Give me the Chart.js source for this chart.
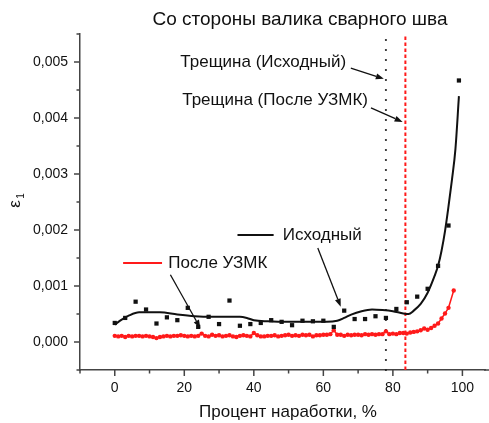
<!DOCTYPE html>
<html><head><meta charset="utf-8">
<script src="https://cdn.jsdelivr.net/npm/chart.js@4"></script>
<style>html,body{margin:0;padding:0;overflow:hidden;background:#fff;width:489px;height:423px}canvas{display:block}</style>
</head><body>
<canvas id="c" width="489" height="423"></canvas>
<script>
const FONT = '"Liberation Sans", Arial, sans-serif';
const titleText = 'Со стороны валика сварного шва';
const xAxisTitle = 'Процент наработки, %';
const yAxisTitle = 'ε';
const yAxisSub = '1';
const seriesNames = ['Исходный', 'После УЗМК'];
const crackLabels = ['Трещина (Исходный)', 'Трещина (После УЗМК)'];
const crackX = [78, 83.6];
const xTickLabels = [0, 20, 40, 60, 80, 100];
const xTickMarks = [-10, 0, 10, 20, 30, 40, 50, 60, 70, 80, 90, 100];
const yTickLabels = [0, 0.001, 0.002, 0.003, 0.004, 0.005];

// Исходный: measured points
const baseX = [0,3,6,9,12,15,18,21,24,27,30,33,36,39,42,45,48,51,54,57,60,63,66,69,72,75,78,81,84,87,90,93,96,99];
const baseY = [0.00034,0.00043,0.00072,0.00058,0.00033,0.00044,0.00039,0.00061,0.00027,0.00045,0.00032,0.00074,0.00029,0.00032,0.00034,0.00039,0.00036,0.00030,0.00038,0.00037,0.00038,0.00027,0.00056,0.00041,0.00041,0.00046,0.00043,0.00059,0.00071,0.00081,0.00095,0.00136,0.00208,0.00467];
// Исходный: smoothed curve
const baseFitX = [0,2,4,7,10,13,18,23,28,33,36,38,40,44,50,56,61,64,66,68,71,74,77,80,83,84.5,86,88,90,92,93,94,95,96,97,98,99];
const baseFitY = [0.00031,0.00040,0.00047,0.00053,0.00053,0.00053,0.00049,0.00046,0.00045,0.00045,0.00045,0.00043,0.00039,0.00037,0.00036,0.00036,0.00036,0.00038,0.00043,0.00049,0.00055,0.00058,0.00057,0.00055,0.00051,0.00050,0.00056,0.00068,0.00088,0.00118,0.00136,0.00163,0.00198,0.00242,0.00290,0.00345,0.00439];
// После УЗМК
const uzmkX = [0,1,2,3,4,5,6,7,8,9,10,11,12,13,14,15,16,17,18,19,20,21,22,23,24,25,26,27,28,29,30,31,32,33,34,35,36,37,38,39,40,41,42,43,44,45,46,47,48,49,50,51,52,53,54,55,56,57,58,59,60,61,62,63,64,65,66,67,68,69,70,71,72,73,74,75,76,77,78,79,80,81,82,83,84,85,86,87,88,89,90,91,92,93,94,95,96,97.5];
const uzmkY = [0.00011,0.00010,0.00011,0.00009,0.00011,0.00010,0.00011,0.00011,0.00010,0.00011,0.00010,0.00009,0.00007,0.00009,0.00010,0.00011,0.00010,0.00011,0.00011,0.00012,0.00011,0.00010,0.00011,0.00010,0.00011,0.00015,0.00011,0.00010,0.00013,0.00011,0.00012,0.00010,0.00011,0.00012,0.00010,0.00009,0.00011,0.00012,0.00011,0.00010,0.00016,0.00012,0.00010,0.00010,0.00011,0.00011,0.00012,0.00010,0.00011,0.00012,0.00013,0.00011,0.00012,0.00011,0.00013,0.00012,0.00013,0.00010,0.00012,0.00012,0.00013,0.00013,0.00014,0.00021,0.00013,0.00013,0.00011,0.00013,0.00012,0.00013,0.00013,0.00012,0.00014,0.00013,0.00014,0.00013,0.00014,0.00014,0.00019,0.00014,0.00015,0.00014,0.00016,0.00016,0.00015,0.00017,0.00018,0.00019,0.00021,0.00024,0.00022,0.00025,0.00029,0.00033,0.00042,0.00051,0.00061,0.00092];

const X_MIN = -10, X_MAX = 106.5, Y_MIN = -0.0005, Y_MAX = 0.0055;
const pts = (xs, ys) => xs.map((x, i) => ({x, y: ys[i]}));
const vline = x => [{x, y: Y_MIN}, {x, y: Y_MAX}];

const isMajorY = v => yTickLabels.some(t => Math.abs(t - v) < 1e-9);
const isMajorX = v => xTickLabels.includes(v);

function arrow(ctx, x1, y1, x2, y2) {
  const a = Math.atan2(y2 - y1, x2 - x1), L = 8, W = 3;
  const bx = x2 - L * Math.cos(a), by = y2 - L * Math.sin(a);
  ctx.beginPath(); ctx.moveTo(x1, y1); ctx.lineTo(bx, by); ctx.stroke();
  ctx.beginPath(); ctx.moveTo(x2, y2);
  ctx.lineTo(bx + W * Math.sin(a), by - W * Math.cos(a));
  ctx.lineTo(bx - W * Math.sin(a), by + W * Math.cos(a));
  ctx.closePath(); ctx.fill();
}

const deco = {
  id: 'deco',
  afterDraw(chart) {
    const {ctx, chartArea: ca, scales: {x, y}} = chart;
    const X = v => x.getPixelForValue(v), Y = v => y.getPixelForValue(v);
    ctx.save();
    // axis line continues to the picture edge
    ctx.strokeStyle = '#444'; ctx.lineWidth = 1.5;
    ctx.beginPath(); ctx.moveTo(ca.right - 1, ca.bottom); ctx.lineTo(chart.width, ca.bottom); ctx.stroke();
    // tick marks
    xTickMarks.forEach(v => {
      const px = X(v), len = isMajorX(v) ? 6 : 3.5;
      ctx.beginPath(); ctx.moveTo(px, ca.bottom); ctx.lineTo(px, ca.bottom + len); ctx.stroke();
    });
    y.ticks.forEach(t => {
      const py = Y(t.value), len = isMajorY(t.value) ? 6 : 3.5;
      ctx.beginPath(); ctx.moveTo(ca.left, py); ctx.lineTo(ca.left - len, py); ctx.stroke();
    });
    ctx.fillStyle = '#111';
    // title
    ctx.font = '19px ' + FONT; ctx.textAlign = 'center'; ctx.textBaseline = 'middle';
    ctx.fillText(titleText, 300, 20);
    // x title
    ctx.font = '17px ' + FONT;
    ctx.fillText(xAxisTitle, 288, 412);
    // y title
    ctx.save();
    ctx.translate(15, (ca.top + ca.bottom) / 2);
    ctx.rotate(-Math.PI / 2);
    ctx.font = '17px ' + FONT; ctx.textAlign = 'center';
    ctx.fillText(yAxisTitle, -2, 0);
    ctx.font = '10px ' + FONT;
    ctx.fillText(yAxisSub, 6, 6);
    ctx.restore();
    // crack labels
    ctx.font = '17px ' + FONT; ctx.textAlign = 'left'; ctx.textBaseline = 'middle';
    ctx.fillText(crackLabels[0], X(18.85), Y(0.0050));
    ctx.fillText(crackLabels[1], X(19.4), Y(0.00432));
    ctx.strokeStyle = '#111'; ctx.lineWidth = 1.3;
    arrow(ctx, X(67.9), Y(0.00489), X(77.4), Y(0.0047));
    arrow(ctx, X(73.7), Y(0.00418), X(82.8), Y(0.00393));
    // series labels
    ctx.lineWidth = 2;
    ctx.strokeStyle = '#111';
    ctx.beginPath(); ctx.moveTo(X(35.3), Y(0.00191)); ctx.lineTo(X(45.7), Y(0.00191)); ctx.stroke();
    ctx.fillText(seriesNames[0], X(48.3), Y(0.00191));
    ctx.strokeStyle = '#ff1a1a';
    ctx.beginPath(); ctx.moveTo(X(2.4), Y(0.00141)); ctx.lineTo(X(13.6), Y(0.00141)); ctx.stroke();
    ctx.fillText(seriesNames[1], X(15.4), Y(0.00141));
    ctx.strokeStyle = '#111'; ctx.lineWidth = 1.3;
    arrow(ctx, X(58.4), Y(0.00168), X(65), Y(0.00063));
    arrow(ctx, X(16), Y(0.0012), X(24.6), Y(0.00025));
    ctx.restore();
  }
};

new Chart(document.getElementById('c'), {
  type: 'scatter',
  data: {
    datasets: [
      {label: seriesNames[0] + ' (точки)', data: pts(baseX, baseY), showLine: false, pointStyle: 'rect', pointRadius: 3, pointBackgroundColor: '#111', pointBorderWidth: 0, order: 1},
      {label: seriesNames[0], data: pts(baseFitX, baseFitY), showLine: true, borderColor: '#111', borderWidth: 2, pointRadius: 0, cubicInterpolationMode: 'monotone', order: 2},
      {label: seriesNames[1], data: pts(uzmkX, uzmkY), showLine: true, borderColor: '#ff1a1a', borderWidth: 1.5, pointRadius: 2.2, pointBackgroundColor: '#ff1a1a', pointBorderWidth: 0, order: 3},
      {label: crackLabels[0], data: vline(crackX[0]), showLine: true, borderColor: '#222', borderWidth: 2.2, borderDash: [0, 10], borderCapStyle: 'round', pointRadius: 0, clip: false, order: 4},
      {label: crackLabels[1], data: vline(crackX[1]), showLine: true, borderColor: '#ff1a1a', borderWidth: 2, borderDash: [3.5, 2.5], pointRadius: 0, clip: false, order: 5}
    ]
  },
  options: {
    responsive: false, animation: false, devicePixelRatio: 1,
    layout: {padding: {top: 34, left: 0, right: 0, bottom: 0}},
    plugins: {legend: {display: false}, tooltip: {enabled: false}},
    scales: {
      x: {
        type: 'linear', min: X_MIN, max: X_MAX,
        afterBuildTicks: s => { s.ticks = xTickLabels.map(v => ({value: v})); },
        afterFit: s => { s.height = 53; s.paddingLeft = 0; s.paddingRight = 0; },
        grid: {display: false, drawTicks: false},
        border: {display: true, color: '#444', width: 1.5},
        ticks: {padding: 10, maxRotation: 0, minRotation: 0, autoSkip: false, color: '#111', font: {family: FONT, size: 14},
          callback: v => String(v)}
      },
      y: {
        type: 'linear', min: Y_MIN, max: Y_MAX,
        afterFit: s => { s.width = 80; },
        grid: {display: false, drawTicks: false},
        border: {display: true, color: '#444', width: 1.5},
        ticks: {stepSize: 0.0005, padding: 12, autoSkip: false, color: '#111', font: {family: FONT, size: 14},
          callback: v => isMajorY(v) ? v.toFixed(3).replace('.', ',') : ''}
      }
    }
  },
  plugins: [deco]
});
</script>
</body></html>
